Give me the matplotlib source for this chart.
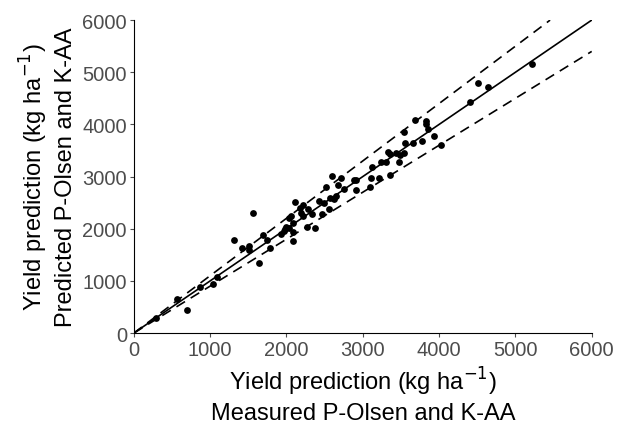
import matplotlib
matplotlib.use("Agg")
import matplotlib.pyplot as plt
import numpy as np

plt.rcParams['font.family'] = ['Liberation Sans', 'DejaVu Sans']

measured = [284, 567, 690, 865, 1031, 1091, 1306, 1415, 1507, 1507,
            1559, 1644, 1696, 1746, 1778, 1922, 1982, 2034, 2061, 2027,
            2087, 2083, 2118, 2171, 2214, 2218, 2283, 2336, 2275, 2380,
            2424, 2493, 2524, 2467, 2558, 2594, 2712, 2676, 2755, 2655,
            2624, 2886, 2917, 2917, 3092, 3114, 3213, 3118, 3363, 3245,
            3301, 3327, 3363, 3432, 3494, 3537, 3476, 3537, 3554, 3659,
            3773, 3690, 3825, 3834, 3851, 3930, 4028, 4411, 4516, 4638,
            5214, 2188, 2083, 1965, 1991, 2565]
predicted = [288, 661, 441, 876, 939, 1079, 1792, 1624, 1674, 1591,
             2300, 1342, 1879, 1783, 1639, 1898, 1994, 2199, 2249, 2007,
             1942, 1758, 2506, 2391, 2454, 2249, 2377, 2287, 2032, 2007,
             2536, 2486, 2793, 2281, 2377, 3015, 2971, 2837, 2760, 2632,
             2569, 2927, 2939, 2735, 2805, 2972, 2977, 3188, 3035, 3272,
             3284, 3475, 3441, 3451, 3418, 3451, 3284, 3859, 3648, 3648,
             3681, 4083, 4070, 4006, 3920, 3771, 3604, 4434, 4787, 4722,
             5162, 2295, 2108, 1961, 2026, 2590]

line_x = [0, 6000]
upper_x = [0, 6000 / 1.1]
lower_x = [0, 6000]

fig = plt.figure(figsize=(6.17, 4.31), dpi=100)
ax = fig.add_axes([0.217, 0.225, 0.742, 0.726])

ax.plot(line_x, line_x, color='black', lw=1.2)
ax.plot(upper_x, [v * 1.1 for v in upper_x], color='black', lw=1.2, ls=(0, (6, 4)))
ax.plot(lower_x, [v * 0.9 for v in lower_x], color='black', lw=1.2, ls=(0, (6, 4)))
ax.scatter(measured, predicted, s=24, color='black', zorder=3, linewidths=0)

ax.set_xlim(0, 6000)
ax.set_ylim(0, 6000)
ax.set_xticks(np.arange(0, 6001, 1000))
ax.set_yticks(np.arange(0, 6001, 1000))
for s in ['top', 'right']:
    ax.spines[s].set_visible(False)
for s in ['left', 'bottom']:
    ax.spines[s].set_linewidth(0.8)
    ax.spines[s].set_color('black')
ax.tick_params(labelsize=14.5, colors='#4d4d4d', length=3, width=0.8, pad=2)

ax.set_xlabel('Yield prediction (kg ha$^{-1}$)\nMeasured P-Olsen and K-AA',
              fontsize=17, linespacing=1.3, labelpad=4)
ax.set_ylabel('Yield prediction (kg ha$^{-1}$)\nPredicted P-Olsen and K-AA',
              fontsize=17, linespacing=1.3, labelpad=4)

fig.savefig('out.png', dpi=100)
